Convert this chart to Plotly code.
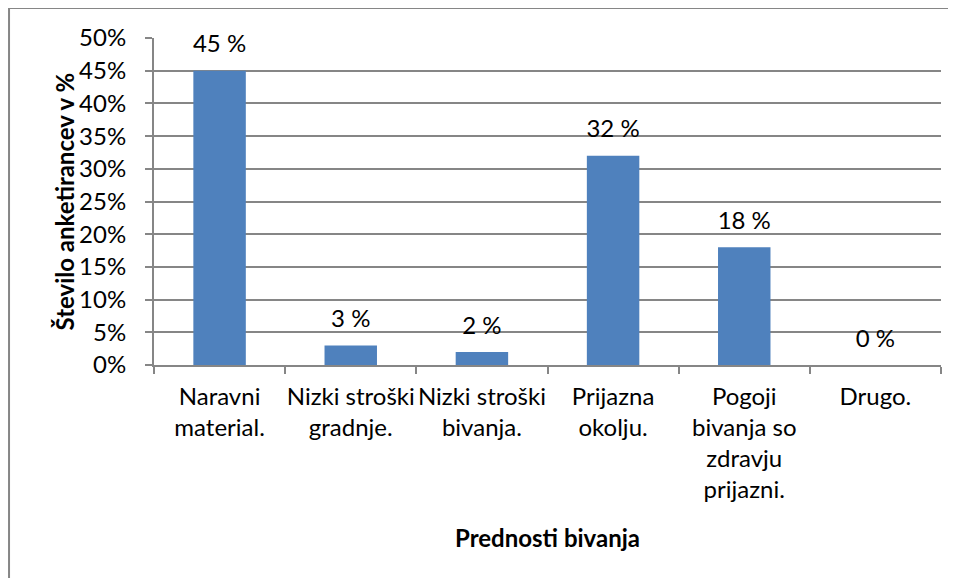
import plotly.graph_objects as go

# Kategorije in vrednosti (v %)
CATEGORIES = [
    "Naravni<br>material.",
    "Nizki stroški<br>gradnje.",
    "Nizki stroški<br>bivanja.",
    "Prijazna<br>okolju.",
    "Pogoji<br>bivanja so<br>zdravju<br>prijazni.",
    "Drugo.",
]
VALUES = [45, 3, 2, 32, 18, 0]
Y_TICKS = [0, 5, 10, 15, 20, 25, 30, 35, 40, 45, 50]
Y_TICK_LABELS = ["0%", "5%", "10%", "15%", "20%", "25%", "30%", "35%", "40%", "45%", "50%"]

BAR_COLOR = "#4F81BD"
GRID_COLOR = "#868686"
FONT = "Lato, 'Open Sans', sans-serif"

fig = go.Figure()
fig.add_trace(
    go.Bar(
        x=CATEGORIES,
        y=VALUES,
        marker=dict(color=BAR_COLOR, line=dict(width=0)),
        hovertemplate="%{x}: %{y} %<extra></extra>",
    )
)
# data labels, nudged above the bars by an invisible marker
fig.add_trace(
    go.Scatter(
        x=CATEGORIES,
        y=VALUES,
        mode="markers+text",
        text=[f"{v} %" for v in VALUES],
        textposition="top center",
        textfont=dict(size=24, color="black", family=FONT),
        marker=dict(size=18, opacity=0),
        cliponaxis=False,
        hoverinfo="skip",
    )
)

fig.update_layout(
    width=948,
    height=570,
    bargap=0.6,
    showlegend=False,
    plot_bgcolor="white",
    paper_bgcolor="white",
    font=dict(family=FONT, size=24, color="black"),
    margin=dict(l=146, r=15, t=30, b=213, autoexpand=False),
    xaxis=dict(
        automargin=False,
        tickangle=0,
        showline=True,
        linecolor=GRID_COLOR,
        linewidth=2,
        ticks="outside",
        tickson="boundaries",
        ticklen=7,
        tickcolor=GRID_COLOR,
        tickwidth=2,
        ticklabelstandoff=9,
        showgrid=False,
        tickfont=dict(size=24),
        title=dict(
            text="<b>Prednosti bivanja</b>",
            font=dict(size=24),
            standoff=28,
        ),
    ),
    yaxis=dict(
        automargin=False,
        range=[0, 50],
        tickmode="array",
        tickvals=Y_TICKS,
        ticktext=Y_TICK_LABELS,
        showline=True,
        linecolor=GRID_COLOR,
        linewidth=2,
        ticks="outside",
        ticklen=7,
        tickcolor=GRID_COLOR,
        tickwidth=2,
        ticklabelstandoff=14,
        showgrid=True,
        gridcolor=GRID_COLOR,
        gridwidth=2,
        zeroline=False,
        tickfont=dict(size=24),
    ),
    annotations=[
        dict(
            text="<b>Število anketirancev v %</b>",
            xref="paper",
            yref="paper",
            x=-0.1131,
            y=0.5,
            xanchor="center",
            yanchor="middle",
            textangle=-90,
            showarrow=False,
            font=dict(size=24),
        )
    ],
    shapes=[
        dict(
            type="rect",
            xref="paper",
            yref="paper",
            x0=-0.1842,
            x1=1.06,
            y0=-0.70,
            y1=1.0917,
            line=dict(color=GRID_COLOR, width=2),
            layer="below",
        )
    ],
)

fig.write_html("out.html")
